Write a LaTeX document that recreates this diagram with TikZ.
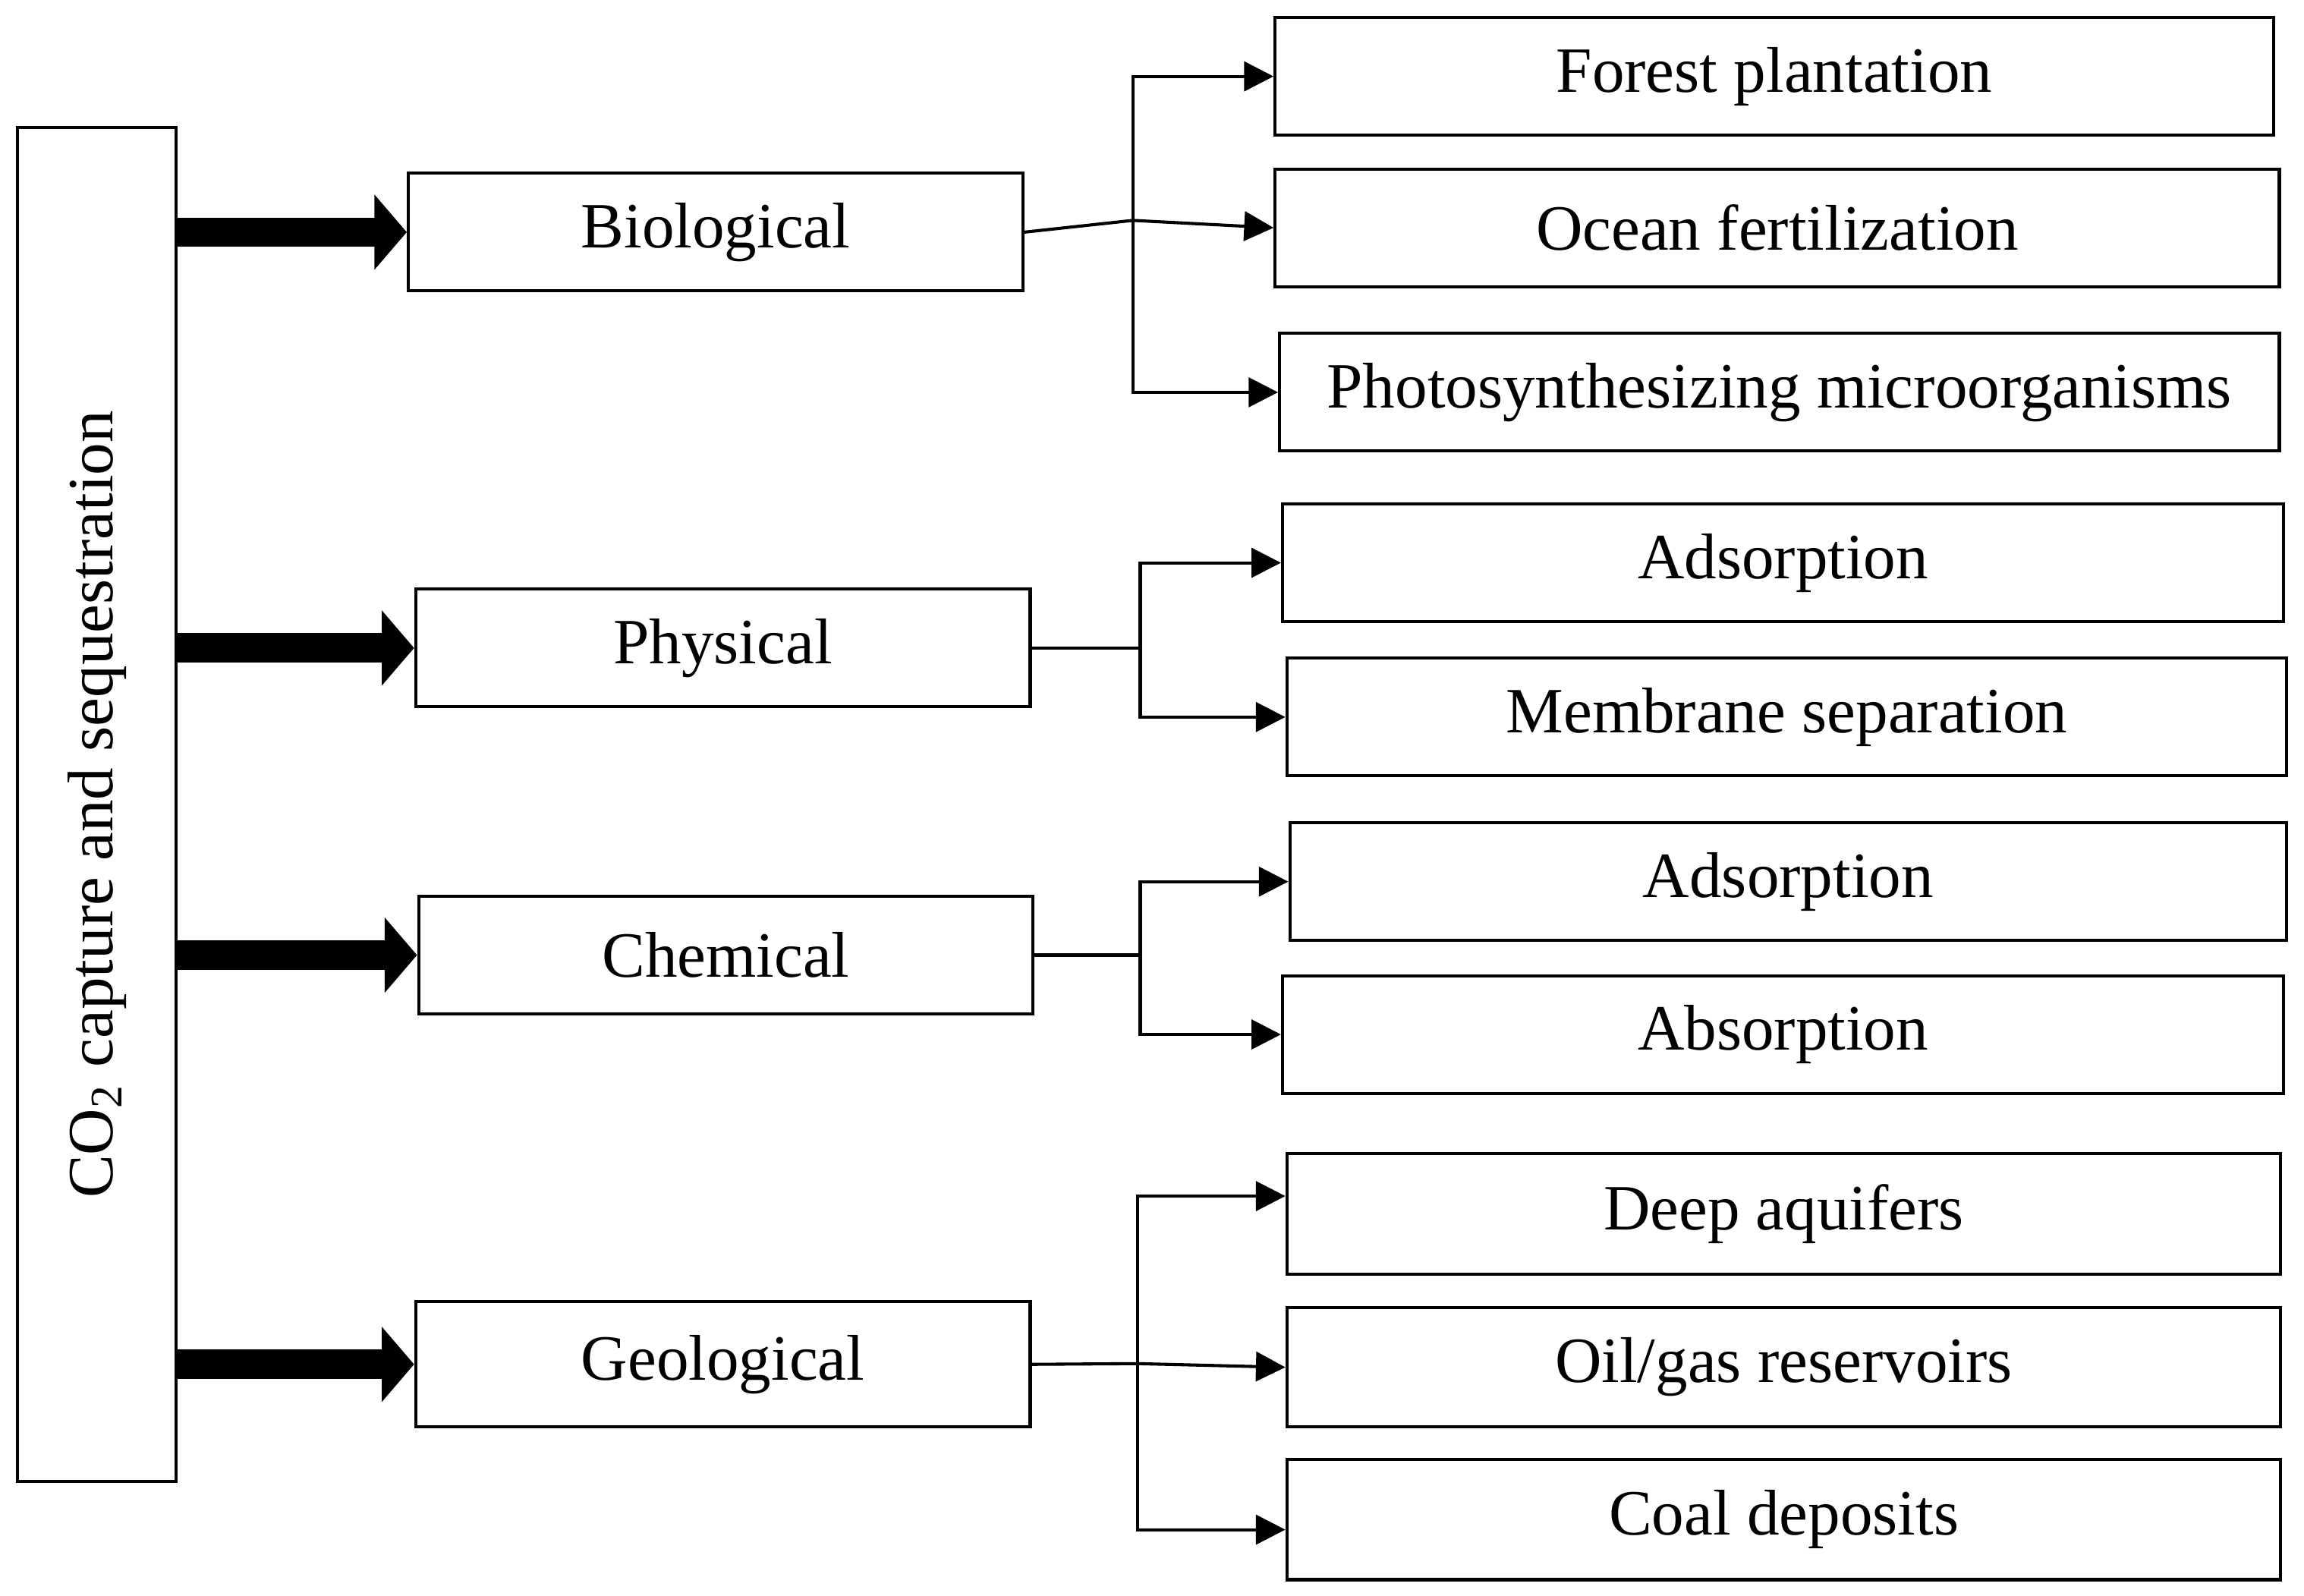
\documentclass[tikz,border=0pt]{standalone}
\usepackage{fontspec}
\setmainfont{Liberation Serif}
\usetikzlibrary{arrows.meta}
\begin{document}
\begin{tikzpicture}[x=0.01cm,y=-0.01cm,
  box/.style={draw,line width=0.6pt,rectangle,inner sep=0pt,font=\fontsize{12.5}{14}\selectfont},
  thick arrow/.style={line width=0.2cm,-{Triangle[length=0.22cm,width=0.5cm]}},
  branch/.style={line width=0.6pt,-{Triangle[length=0.2cm,width=0.2cm]}}]
\useasboundingbox (0,0) rectangle (1568,1086);
\node[box,minimum width=1.08cm,minimum height=9.21cm] (root) at (66,547.5) {};
\node[rotate=90,font=\fontsize{12.5}{14}\selectfont] (rootlabel) at (66,547.5) {CO\textsubscript{2} capture and sequestration};
\node[box,minimum width=4.18cm,minimum height=0.8cm] (bio) at (487,158) {Biological};
\node[box,minimum width=4.18cm,minimum height=0.8cm] (phy) at (492,441) {Physical};
\node[box,minimum width=4.18cm,minimum height=0.8cm] (che) at (494,650) {Chemical};
\node[box,minimum width=4.18cm,minimum height=0.85cm] (geo) at (492,928.5) {Geological};
\foreach \n in {bio,phy,che,geo}{\draw[thick arrow] (root.east|-\n.west) -- (\n.west);}
\node[box,minimum width=6.79cm,minimum height=0.8cm] (f1) at (1207.5,52) {Forest plantation};
\node[box,minimum width=6.83cm,minimum height=0.8cm] (f2) at (1209.5,155) {Ocean fertilization};
\node[box,minimum width=6.80cm,minimum height=0.8cm] (f3) at (1211,267) {Photosynthesizing microorganisms};
\node[box,minimum width=6.81cm,minimum height=0.8cm] (p1) at (1213.5,383) {Adsorption};
\node[box,minimum width=6.80cm,minimum height=0.8cm] (p2) at (1216,488) {Membrane separation};
\node[box,minimum width=6.78cm,minimum height=0.8cm] (c1) at (1217,600) {Adsorption};
\node[box,minimum width=6.81cm,minimum height=0.8cm] (c2) at (1213.5,704) {Absorption};
\node[box,minimum width=6.76cm,minimum height=0.82cm] (g1) at (1214,826) {Deep aquifers};
\node[box,minimum width=6.76cm,minimum height=0.81cm] (g2) at (1214,930.5) {Oil/gas reservoirs};
\node[box,minimum width=6.76cm,minimum height=0.82cm] (g3) at (1214,1034) {Coal deposits};
\coordinate (bj) at (771,150); \coordinate (pj) at (776,441); \coordinate (cj) at (776,650); \coordinate (gj) at (774,928);
\draw[line width=0.6pt] (bio.east) -- (bj); \draw[line width=0.6pt] (phy.east) -- (pj);
\draw[line width=0.6pt] (che.east) -- (cj); \draw[line width=0.6pt] (geo.east) -- (gj);
\draw[branch] (bj) |- (f1.west); \draw[branch] (bj) -- (f2.west); \draw[branch] (bj) |- (f3.west);
\draw[branch] (pj) |- (p1.west); \draw[branch] (pj) |- (p2.west);
\draw[branch] (cj) |- (c1.west); \draw[branch] (cj) |- (c2.west);
\draw[branch] (gj) |- ([yshift=0.12cm]g1.west); \draw[branch] (gj) -- (g2.west); \draw[branch] (gj) |- ([yshift=-0.07cm]g3.west);
\end{tikzpicture}
\end{document}
